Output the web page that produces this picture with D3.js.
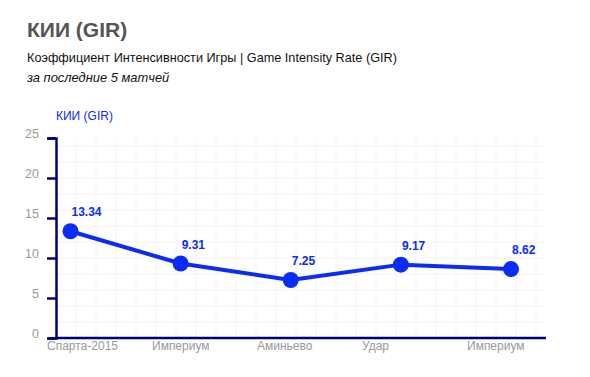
<!DOCTYPE html>
<html>
<head>
<meta charset="utf-8">
<script src="https://cdn.jsdelivr.net/npm/d3@7"></script>
<style>
  body { margin: 0; background: #fff; }
  svg { display: block; font-family: "Liberation Sans", Arial, sans-serif; }
</style>
</head>
<body>
<svg id="chart"></svg>
<script>
const matches = ["Спарта-2015", "Империум", "Аминьево", "Удар", "Империум"];
const girValues = [13.34, 9.31, 7.25, 9.17, 8.62];
const yTicks = [0, 5, 10, 15, 20, 25];

const width = 590, height = 377;
const plot = { left: 56, right: 546, top: 138, bottom: 338 };
const blue = "#0a2cf5";
const navy = "#00007a";

const svg = d3.select("#chart").attr("width", width).attr("height", height);

// titles
svg.append("text").attr("x", 27).attr("y", 37)
    .attr("font-size", 21).attr("font-weight", "bold").attr("fill", "#555")
    .text("КИИ (GIR)");
svg.append("text").attr("x", 27).attr("y", 62)
    .attr("font-size", 12.7).attr("fill", "#111")
    .text("Коэффициент Интенсивности Игры | Game Intensity Rate (GIR)");
svg.append("text").attr("x", 27).attr("y", 82)
    .attr("font-size", 12.9).attr("font-style", "italic").attr("fill", "#111")
    .text("за последние 5 матчей");

// scales
const y = d3.scaleLinear().domain([0, 25]).range([plot.bottom, plot.top]);
const idx = d3.range(matches.length);
const x = d3.scalePoint().domain(idx).range([70.5, 511]);
const xLabel = d3.scalePoint().domain(idx).range([47, 467]);
const gridX = d3.scaleLinear().domain([0, 24.5]).range([plot.left, plot.right]);

// grid
const grid = svg.append("g").attr("stroke", "#f7f7fa").attr("stroke-width", 1.5);
grid.selectAll("line.h").data(y.ticks(10)).join("line").attr("class", "h")
    .attr("x1", plot.left).attr("x2", plot.right)
    .attr("y1", d => y(d)).attr("y2", d => y(d));
grid.selectAll("line.v").data(d3.range(1, 25)).join("line").attr("class", "v")
    .attr("x1", d => gridX(d)).attr("x2", d => gridX(d))
    .attr("y1", plot.top).attr("y2", plot.bottom);

// y axis
const yAxis = svg.append("g").attr("transform", `translate(${plot.left},0)`)
    .call(d3.axisLeft(y).tickValues(yTicks).tickSize(9).tickPadding(8));
yAxis.select(".domain").attr("stroke", navy).attr("stroke-width", 2.5);
yAxis.selectAll(".tick line").attr("stroke", navy).attr("stroke-width", 2.5);
yAxis.selectAll(".tick text").attr("fill", "#999").attr("font-size", 12.5)
    .attr("font-family", "Liberation Sans, Arial, sans-serif")
    .attr("dy", "-0.05em").attr("text-anchor", "end");

// x axis line
svg.append("line")
    .attr("x1", plot.left - 1).attr("x2", plot.right)
    .attr("y1", plot.bottom).attr("y2", plot.bottom)
    .attr("stroke", navy).attr("stroke-width", 2.5);

svg.selectAll("text.xlab").data(idx).join("text").attr("class", "xlab")
    .attr("x", i => xLabel(i)).attr("y", 350)
    .attr("font-size", 12).attr("fill", "#999")
    .text(i => matches[i]);

// axis title
svg.append("text").attr("x", 56).attr("y", 120)
    .attr("font-size", 12).attr("fill", blue)
    .text("КИИ (GIR)");

// line + points
const line = d3.line().x(i => x(i)).y(i => y(girValues[i]));
svg.append("path").datum(idx).attr("d", line)
    .attr("fill", "none").attr("stroke", blue).attr("stroke-width", 4)
    .attr("stroke-linejoin", "round");

svg.selectAll("circle.pt").data(idx).join("circle").attr("class", "pt")
    .attr("cx", i => x(i)).attr("cy", i => y(girValues[i])).attr("r", 8)
    .attr("fill", blue);

svg.selectAll("text.val").data(idx).join("text").attr("class", "val")
    .attr("x", i => x(i) + 1).attr("y", i => y(girValues[i]) - 15)
    .attr("font-size", 12).attr("font-weight", "bold").attr("fill", blue)
    .text(i => girValues[i].toFixed(2));
</script>
</body>
</html>
